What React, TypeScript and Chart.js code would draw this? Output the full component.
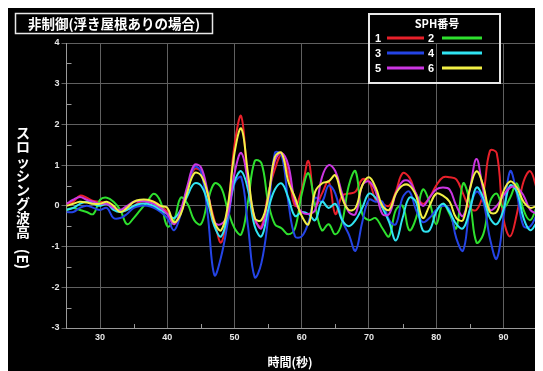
import { useEffect, useRef } from "react";
import { Chart, registerables } from "chart.js";

Chart.register(...registerables);

// ---- data ----
const times = [
  25, 26, 27, 28, 29, 30, 31, 32, 33, 34,
  35, 36, 37, 38, 39, 40, 41, 42, 43, 44,
  45, 46, 47, 48, 49, 50, 51, 52, 53, 54,
  55, 56, 57, 58, 59, 60, 61, 62, 63, 64,
  65, 66, 67, 68, 69, 70, 71, 72, 73, 74,
  75, 76, 77, 78, 79, 80, 81, 82, 83, 84,
  85, 86, 87, 88, 89, 90, 91, 92, 93, 94,
  95,
];

const sph1 = [
  0.05, 0.1, 0.25, 0.2, 0.12, 0.1, 0.05, -0.05, -0.15, -0.1,
  0.0, 0.1, 0.12, 0.1, 0.0, -0.15, -0.45, -0.15, 0.4, 0.9,
  0.85, 0.3, -0.35, -0.9, -0.1, 1.5, 2.2, 0.55, -0.35, -0.5,
  0.3, 0.9, 1.25, 0.8, 0.0, 0.4, 1.1, 0.0, 0.3, 0.6,
  -0.2, 0.25, 0.3, 0.35, 0.65, 0.6, 0.15, 0.05, 0.0, 0.35,
  0.8, 0.7, 0.3, 0.05, 0.2, 0.5, 0.7, 0.7, 0.65, 0.3,
  -0.05, -0.1, 0.3, 1.35, 1.3, -0.3, -0.75, -0.2, 0.6, 0.85,
  0.4,
];

const sph2 = [
  -0.1, -0.05, -0.1, -0.15, -0.2, 0.15, 0.2, 0.1, -0.1, -0.45,
  -0.3, -0.1, 0.1, 0.3, 0.1, -0.5, -0.35, 0.2, 0.05, -0.35,
  -0.45, 0.1, 0.55, 0.45, -0.1, -0.55, -0.7, 0.1, 1.1, 1.05,
  0.1, -0.45, -0.55, -0.7, -0.55, 0.3, 0.8, 0.0, -0.6, -0.45,
  -0.7, -0.4, 0.5, 0.85, -0.2, -0.35, -0.3, -0.55, -0.75, -0.1,
  0.0, -0.6, -0.3, 0.4, 0.1, -0.45, 0.05, -0.2, -0.55, 0.55,
  0.1, -0.9, -0.7, 0.1, 0.3, -0.05, 0.2, 0.55, -0.1, -0.35,
  0.0,
];

const sph3 = [
  -0.15, -0.15, -0.05, 0.0, -0.05, -0.1, -0.05, -0.3, -0.3, -0.2,
  -0.05, 0.0, 0.0, -0.05, -0.15, -0.3, -0.6, -0.2, 0.4, 0.95,
  0.85, -0.2, -1.7, -1.25, -0.4, 0.55, 0.7, -0.5, -1.75, -1.4,
  -0.3, 1.3, 1.25, 0.1, -0.75, -0.75, -0.4, 0.2, 0.1, 0.5,
  0.3, -0.35, -0.7, -1.1, -0.4, 0.15, 0.1, 0.1, -0.35, -0.45,
  0.2, 0.35, -0.1, -0.4, -0.3, -0.1, 0.0, -0.1, -0.8, -1.1,
  -0.1, 0.35, 0.1, -0.8, -1.3, -0.3, 0.85, 0.3, -0.5, -0.5,
  -0.2,
];

const sph4 = [
  -0.1, -0.05, 0.05, 0.1, 0.05, 0.0, 0.05, -0.1, -0.15, -0.1,
  0.0, 0.05, 0.05, 0.0, -0.1, -0.2, -0.3, -0.1, 0.25, 0.55,
  0.5, 0.1, -0.5, -0.75, -0.2, 0.6, 0.85, 0.4, -0.5, -0.75,
  -0.1, 0.4, 0.55, 0.2, -0.25, -0.15, -0.2, -0.35, 0.1, -0.05,
  0.05, -0.35, -0.5, -0.35, -0.05, 0.3, 0.2, -0.05, -0.4, -0.85,
  -0.3, 0.2, 0.1, -0.6, -0.6, -0.15, 0.05, -0.15, -0.45, -0.55,
  -0.1, 0.45, 0.2, -0.3, -0.45, -0.1, 0.5, 0.35, -0.3, -0.6,
  -0.4,
];

const sph5 = [
  0.05, 0.15, 0.22, 0.15, 0.1, 0.05, 0.05, -0.05, -0.1, 0.0,
  0.1, 0.12, 0.1, 0.05, -0.05, -0.2, -0.45, -0.1, 0.5, 1.0,
  0.95, 0.35, -0.4, -0.45, -0.2, 0.8, 1.3, 0.6, -0.3, -0.55,
  0.2, 1.1, 1.3, 1.0, 0.1, -0.15, -0.2, -0.1, 0.7, 1.0,
  0.85, 0.3, -0.15, -0.2, 0.5, 0.6, 0.35, -0.2, -0.2, 0.3,
  0.6, 0.6, 0.3, 0.0, 0.2, 0.4, 0.45, 0.4, 0.0, -0.25,
  0.4, 1.15, 0.4, -0.1, 0.0, 0.25, 0.45, 0.45, 0.25, -0.1,
  -0.2,
];

const sph6 = [
  0.0, 0.05, 0.1, 0.08, 0.05, 0.05, 0.1, 0.0, -0.15, -0.05,
  0.1, 0.15, 0.15, 0.1, 0.0, -0.05, -0.4, -0.2, 0.35, 0.8,
  0.75, 0.3, -0.4, -0.6, 0.0, 1.3, 1.9, 0.8, -0.3, -0.35,
  0.2, 1.2, 1.3, 0.6, 0.2, -0.25, -0.45, 0.35, 0.55, 0.6,
  0.75, 0.2, -0.1, -0.05, 0.5, 0.7, 0.45, 0.0, -0.1, 0.3,
  0.5, 0.5, 0.25, -0.3, 0.0, 0.3, 0.25, 0.1, -0.3, -0.35,
  0.4, 0.85, 0.5, -0.15, -0.15, 0.35, 0.6, 0.45, 0.1, -0.05,
  0.0,
];

const seriesValues = [sph1, sph2, sph3, sph4, sph5, sph6];
const seriesLabels = ["1", "2", "3", "4", "5", "6"];
const seriesColors = ["#e8202a", "#2ee02e", "#2444e6", "#30e4f2", "#cc36e2", "#f2f046"];

const xTicks = [30, 40, 50, 60, 70, 80, 90];
const yTicks = [-3, -2, -1, 0, 1, 2, 3, 4];
const xMinorTicks = [35, 45, 55, 65, 75, 85];
const yMinorTicks = [-2.5, -1.5, -0.5, 0.5, 1.5, 2.5, 3.5];

const chartTitle = "非制御(浮き屋根ありの場合)";
const legendTitle = "SPH番号";
const yTitleMain = "スロッシング波高";
const yTitleUnit = "(E)";
const xTitle = "時間(秒)";

const CJK = '"Noto Sans CJK JP", "Noto Sans", sans-serif';
const LAT = '"Liberation Sans", Arial, sans-serif';

const overlayPlugin = {
  id: "overlay",
  beforeDatasetsDraw(chart: any) {
    const { ctx, chartArea: a, scales } = chart;
    ctx.save();
    ctx.strokeStyle = "#9a9a9a";
    ctx.lineWidth = 1;
    ctx.beginPath();
    ctx.moveTo(Math.round(a.right) - 0.5, a.top);
    ctx.lineTo(Math.round(a.right) - 0.5, a.bottom);
    yMinorTicks.forEach((v) => {
      const y = Math.round(scales.y.getPixelForValue(v)) + 0.5;
      ctx.moveTo(a.left, y);
      ctx.lineTo(a.left + 5, y);
    });
    xMinorTicks.forEach((v) => {
      const x = Math.round(scales.x.getPixelForValue(v)) + 0.5;
      ctx.moveTo(x, a.bottom);
      ctx.lineTo(x, a.bottom - 4);
    });
    ctx.stroke();
    ctx.restore();
  },
  afterDraw(chart: any) {
    const { ctx } = chart;
    ctx.save();
    // title box
    ctx.strokeStyle = "#e8e8e8";
    ctx.lineWidth = 1.5;
    ctx.strokeRect(7.5, 5.5, 197, 20);
    ctx.fillStyle = "#ffffff";
    ctx.font = `bold 13.5px ${CJK}`;
    ctx.textAlign = "left";
    ctx.textBaseline = "middle";
    ctx.fillText(chartTitle, 20, 16);

    // legend box
    ctx.lineWidth = 2;
    ctx.strokeRect(361, 6, 131, 69);
    ctx.font = `bold 11px ${CJK}`;
    ctx.textAlign = "center";
    ctx.fillText(legendTitle, 429, 16);
    const rows = [30, 45, 60];
    const cols = [
      { num: 370, x0: 379, x1: 416 },
      { num: 423, x0: 434, x1: 474 },
    ];
    chart.data.datasets.forEach((ds: any, i: number) => {
      const r = Math.floor(i / 2);
      const c = cols[i % 2];
      const y = rows[r];
      ctx.fillStyle = "#ffffff";
      ctx.font = `bold 11px ${LAT}`;
      ctx.textAlign = "center";
      ctx.fillText(ds.label, c.num, y + 0.5);
      ctx.strokeStyle = ds.borderColor;
      ctx.lineWidth = 3;
      ctx.beginPath();
      ctx.moveTo(c.x0, y);
      ctx.lineTo(c.x1, y);
      ctx.stroke();
    });

    // y title (vertical)
    ctx.fillStyle = "#ffffff";
    ctx.font = `bold 14px ${CJK}`;
    ctx.textAlign = "center";
    ctx.textBaseline = "middle";
    Array.from(yTitleMain).forEach((ch, i) => {
      ctx.fillText(ch, 15, 125 + i * 14.1);
    });
    ctx.save();
    ctx.translate(15, 251);
    ctx.rotate(Math.PI / 2);
    ctx.font = `bold 15px ${CJK}`;
    ctx.fillText(yTitleUnit, 0, 0);
    ctx.restore();

    // x title
    ctx.font = `bold 12px ${CJK}`;
    ctx.textAlign = "center";
    ctx.textBaseline = "middle";
    ctx.fillText(xTitle, 282, 354);
    ctx.restore();
  },
};

export default function App() {
  const canvasRef = useRef<HTMLCanvasElement | null>(null);

  useEffect(() => {
    document.documentElement.style.overflow = "hidden";
    const canvas = canvasRef.current;
    if (!canvas) return;
    const datasets = seriesValues.map((vals, i) => ({
      label: seriesLabels[i],
      data: vals.map((v, j) => ({ x: times[j], y: v })),
      borderColor: seriesColors[i],
      backgroundColor: seriesColors[i],
      borderWidth: 2,
      pointRadius: 0,
      tension: 0.4,
      fill: false,
      order: seriesValues.length - i,
    }));
    const chart = new Chart(canvas, {
      type: "line",
      data: { datasets },
      options: {
        animation: false,
        responsive: false,
        devicePixelRatio: 1,
        layout: { padding: { top: 35, right: 6, bottom: 0, left: 0 } },
        plugins: {
          legend: { display: false },
          tooltip: { enabled: false },
          title: { display: false },
        },
        scales: {
          x: {
            type: "linear",
            min: 25,
            max: 95,
            afterBuildTicks: (scale: any) => {
              scale.ticks = xTicks.map((v) => ({ value: v }));
            },
            afterFit: (scale: any) => {
              scale.height = 43;
            },
            grid: { color: "#606060", drawTicks: false, lineWidth: 1 },
            border: { display: true, color: "#9a9a9a" },
            ticks: {
              color: "#e6e6e6",
              font: { family: LAT, size: 9, weight: "bold" },
              padding: 4,
              maxRotation: 0,
            },
          },
          y: {
            type: "linear",
            min: -3,
            max: 4,
            afterBuildTicks: (scale: any) => {
              scale.ticks = yTicks.map((v) => ({ value: v }));
            },
            afterFit: (scale: any) => {
              scale.width = 58.5;
            },
            grid: { color: "#606060", tickLength: 5, lineWidth: 1 },
            border: { display: true, color: "#9a9a9a" },
            ticks: {
              color: "#e6e6e6",
              font: { family: LAT, size: 9, weight: "bold" },
              padding: 2,
            },
          },
        },
      },
      plugins: [overlayPlugin],
    });
    return () => chart.destroy();
  }, []);

  return (
    <div style={{ width: 535, height: 363, background: "#000" }}>
      <canvas ref={canvasRef} width={535} height={363} style={{ display: "block" }} />
    </div>
  );
}
